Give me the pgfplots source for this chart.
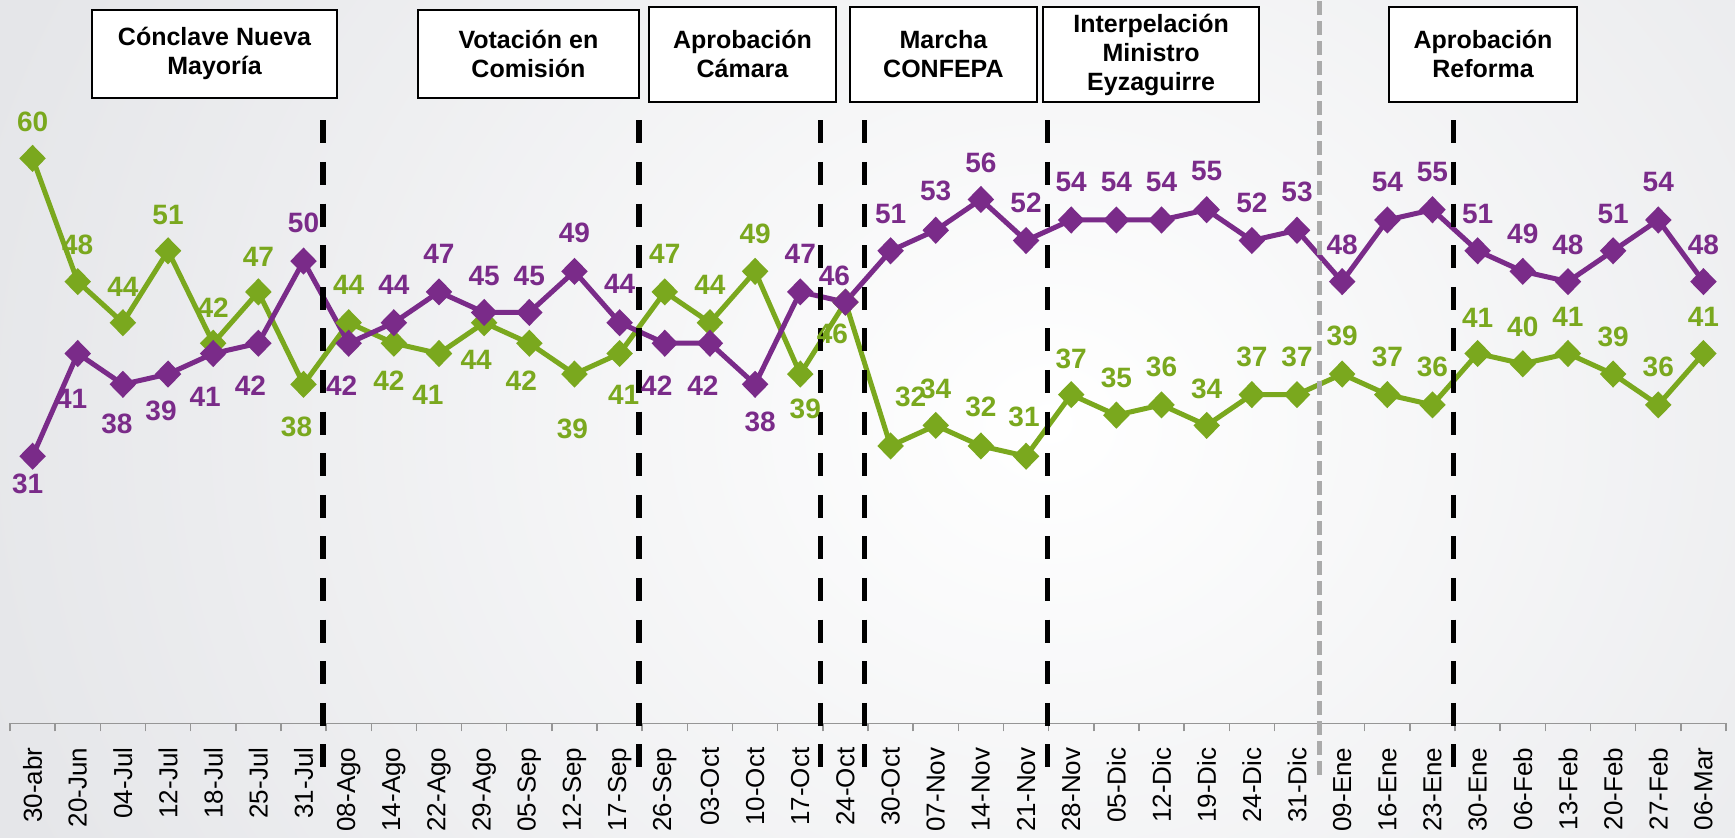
\documentclass[border=0pt]{standalone}
\usepackage{fontspec}
\setmainfont{Liberation Sans}
\usepackage{pgfplots}
\usepackage{pgfplotstable}
\pgfplotsset{compat=1.18}
\usetikzlibrary{backgrounds}

\definecolor{verde}{RGB}{122,168,30}
\definecolor{morado}{RGB}{122,43,137}
\definecolor{fondo}{RGB}{229,230,233}
\definecolor{ejegris}{RGB}{150,150,150}

% columns: index, value, label shift x / y (pt)
\pgfplotstableread{
x y dx dy
0 60 0 18
1 48 0 18.5
2 44 0 18
3 51 0 18
4 42 0 18
5 47 0 17.5
6 38 -3.5 -21.5
7 44 0 19
8 42 -2.5 -18.5
9 41 -5.5 -20.5
10 44 -4 -18.5
11 42 -4 -18.5
12 39 -1 -27.5
13 41 2 -20.5
14 47 0 19
15 44 0 19
16 49 0 18.5
17 39 2.5 -17.5
18 46 -6.5 -16
19 32 10 24.5
20 34 0 18.5
21 32 0 19.5
22 31 -1 19.5
23 37 0 18
24 35 0 18.5
25 36 0 19
26 34 0 18.5
27 37 0 19
28 37 0 19
29 39 0 19
30 37 0 19
31 36 0 19
32 41 0 18
33 40 0 18.5
34 41 0 18.5
35 39 0 18.5
36 36 0 19
37 41 0 18.5
}\verdetab

\pgfplotstableread{
x y dx dy
0 31 -2.5 -14
1 41 -3 -22.5
2 38 -3 -20
3 39 -3.5 -18.5
4 41 -4 -21.5
5 42 -4 -21
6 50 0 19
7 42 -3.5 -21
8 44 0 19
9 47 0 19
10 45 0 18
11 45 0 18
12 49 0 19
13 44 0 19.5
14 42 -4 -21
15 42 -3.5 -21
16 38 2.5 -19
17 47 0 19
18 46 -5.5 13
19 51 0 18.5
20 53 0 19.5
21 56 0 18.5
22 52 0 19
23 54 0 19
24 54 0 19
25 54 0 19
26 55 0 19.5
27 52 0 19
28 53 0 19
29 48 0 18.5
30 54 0 19
31 55 0 19
32 51 0 18.5
33 49 0 18.5
34 48 0 18.5
35 51 0 18.5
36 54 0 19
37 48 0 18.5
}\moradotab

\begin{document}
\begin{tikzpicture}
\begin{axis}[
  at={(0,0)}, anchor=south west,
  scale only axis, width=858pt, height=359.5pt,
  xmin=-0.5, xmax=37.5, ymin=5, ymax=75,
  clip=false,
  axis x line*=bottom, axis y line=none,
  axis line style={ejegris, line width=0.75pt},
  xtick={0,...,37},
  xticklabels={30-abr,20-Jun,04-Jul,12-Jul,18-Jul,25-Jul,31-Jul,08-Ago,14-Ago,22-Ago,29-Ago,05-Sep,12-Sep,17-Sep,26-Sep,03-Oct,10-Oct,17-Oct,24-Oct,30-Oct,07-Nov,14-Nov,21-Nov,28-Nov,05-Dic,12-Dic,19-Dic,24-Dic,31-Dic,09-Ene,16-Ene,23-Ene,30-Ene,06-Feb,13-Feb,20-Feb,27-Feb,06-Mar},
  major tick length=0pt,
  extra x ticks={-0.5,0.5,...,37.5},
  extra x tick labels={},
  extra x tick style={major tick length=4pt, tick style={ejegris, line width=0.75pt}},
  tick align=outside,
  xticklabel style={rotate=90, anchor=east, inner sep=0pt, font=\fontsize{13}{13}\selectfont},
  xticklabel shift=12pt,
  /pgf/number format/assume math mode=true,
  nodes near coords,
  visualization depends on={\thisrow{dx} \as \dx},
  visualization depends on={\thisrow{dy} \as \dy},
  every node near coord/.append style={anchor=center, xshift=\dx pt, yshift=\dy pt,
    font=\fontsize{14}{14}\bfseries},
]
\addplot[verde, line width=2.5pt, mark=diamond*, mark size=5pt,
  mark options={xscale=1.3, solid}, nodes near coords style={verde}]
  table[x=x, y=y] {\verdetab};
\addplot[morado, line width=2.5pt, mark=diamond*, mark size=5pt,
  mark options={xscale=1.3, solid}, nodes near coords style={morado}]
  table[x=x, y=y] {\moradotab};

% eventos
\foreach \xv in {6.43,13.43,17.45,18.43,22.47,31.47}{
  \edef\tmp{\noexpand\draw[black, line width=2.6pt, dash pattern=on 11.5pt off 9.3pt]
    (axis cs:\xv,63.7) -- (axis cs:\xv,0);}\tmp
}
\draw[black!33, line width=2.2pt, dash pattern=on 7pt off 3pt]
  (axis cs:28.5,75.3) -- (axis cs:28.5,-0.6);

\draw[line width=1pt, fill=white] (axis cs:1.316,74.45) rectangle (axis cs:6.741,65.9);
\node[align=center, font=\fontsize{12.5}{14.5}\bfseries\selectfont] at (axis cs:4.03,70.2) {Cónclave Nueva\\Mayoría};
\draw[line width=1pt, fill=white] (axis cs:8.535,74.45) rectangle (axis cs:13.428,65.9);
\node[align=center, font=\fontsize{12.5}{14.5}\bfseries\selectfont] at (axis cs:10.98,70.2) {Votación en\\Comisión};
\draw[line width=1pt, fill=white] (axis cs:13.65,74.75) rectangle (axis cs:17.79,65.5);
\node[align=center, font=\fontsize{12.5}{14.5}\bfseries\selectfont] at (axis cs:15.72,70.2) {Aprobación\\Cámara};
\draw[line width=1pt, fill=white] (axis cs:18.10,74.75) rectangle (axis cs:22.24,65.5);
\node[align=center, font=\fontsize{12.5}{14.5}\bfseries\selectfont] at (axis cs:20.17,70.2) {Marcha\\CONFEPA};
\draw[line width=1pt, fill=white] (axis cs:22.37,74.75) rectangle (axis cs:27.16,65.5);
\node[align=center, font=\fontsize{12.5}{14.5}\bfseries\selectfont] at (axis cs:24.77,70.1) {Interpelación\\Ministro\\Eyzaguirre};
\draw[line width=1pt, fill=white] (axis cs:30.04,74.75) rectangle (axis cs:34.2,65.5);
\node[align=center, font=\fontsize{12.5}{14.5}\bfseries\selectfont] at (axis cs:32.12,70.2) {Aprobación\\Reforma};
\end{axis}
\begin{scope}[on background layer]
  \clip (-5pt,-57.35pt) rectangle (862.5pt,361.65pt);
  \fill[fondo] (-5pt,-57.35pt) rectangle (862.5pt,361.65pt);
  \shade[inner color=white, outer color=fondo] (520pt,150pt) ellipse (560pt and 500pt);
\end{scope}
\pgfresetboundingbox
\path[use as bounding box] (-5pt,-57.35pt) rectangle (862.5pt,361.65pt);
\end{tikzpicture}
\end{document}
